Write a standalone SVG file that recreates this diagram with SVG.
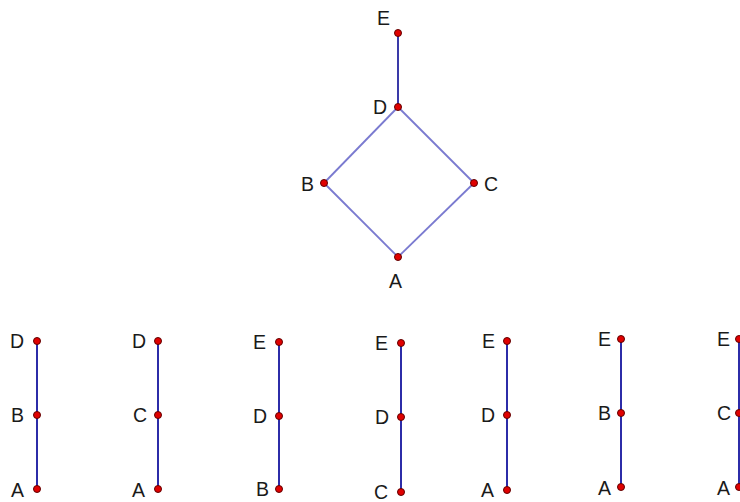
<svg xmlns="http://www.w3.org/2000/svg" width="740" height="502" viewBox="0 0 740 502">
<style>
.lbl{font-family:"Liberation Sans",Arial,sans-serif;font-size:19.5px;fill:#1a1a1a;}
.dot{fill:#e00000;stroke:#600000;stroke-width:1;}
.e1{stroke:#3a3aa8;stroke-width:2;fill:none;}
.e2{stroke:#7a7ad0;stroke-width:1.8;fill:none;}
.e3{stroke:#2c2ca8;stroke-width:2;fill:none;}
</style>
<rect width="740" height="502" fill="#ffffff"/>
<g id="connectors">
<line class="e1" x1="398" y1="33" x2="398" y2="107"/>
<line class="e2" x1="398" y1="107" x2="324" y2="183"/>
<line class="e2" x1="398" y1="107" x2="474" y2="183"/>
<line class="e2" x1="324" y1="183" x2="398" y2="257"/>
<line class="e2" x1="474" y1="183" x2="398" y2="257"/>
<line class="e3" x1="37" y1="341" x2="37" y2="489"/>
<line class="e3" x1="158" y1="341" x2="158" y2="489"/>
<line class="e3" x1="279" y1="342" x2="279" y2="489"/>
<line class="e3" x1="401" y1="343" x2="401" y2="492"/>
<line class="e3" x1="507" y1="341" x2="507" y2="490"/>
<line class="e3" x1="621" y1="339" x2="621" y2="487"/>
<line class="e3" x1="739" y1="339" x2="739" y2="487"/>
</g>
<g id="E"><circle class="dot" cx="398" cy="33" r="3.5"/><text class="lbl" x="377" y="25">E</text></g>
<g id="D"><circle class="dot" cx="398" cy="107" r="3.5"/><text class="lbl" x="373" y="114">D</text></g>
<g id="B"><circle class="dot" cx="324" cy="183" r="3.5"/><text class="lbl" x="301" y="191">B</text></g>
<g id="C"><circle class="dot" cx="474" cy="183" r="3.5"/><text class="lbl" x="484" y="191">C</text></g>
<g id="A"><circle class="dot" cx="398" cy="257" r="3.5"/><text class="lbl" x="389" y="288">A</text></g>

<g id="c1-D"><circle class="dot" cx="37" cy="341" r="3.5"/><text class="lbl" x="10" y="348">D</text></g>
<g id="c1-B"><circle class="dot" cx="37" cy="415" r="3.5"/><text class="lbl" x="11" y="422">B</text></g>
<g id="c1-A"><circle class="dot" cx="37" cy="489" r="3.5"/><text class="lbl" x="11" y="497">A</text></g>

<g id="c2-D"><circle class="dot" cx="158" cy="341" r="3.5"/><text class="lbl" x="132" y="348">D</text></g>
<g id="c2-C"><circle class="dot" cx="158" cy="415" r="3.5"/><text class="lbl" x="133" y="422">C</text></g>
<g id="c2-A"><circle class="dot" cx="158" cy="489" r="3.5"/><text class="lbl" x="132" y="497">A</text></g>

<g id="c3-E"><circle class="dot" cx="279" cy="342" r="3.5"/><text class="lbl" x="253" y="349">E</text></g>
<g id="c3-D"><circle class="dot" cx="279" cy="416" r="3.5"/><text class="lbl" x="253" y="423">D</text></g>
<g id="c3-B"><circle class="dot" cx="279" cy="489" r="3.5"/><text class="lbl" x="256" y="496">B</text></g>

<g id="c4-E"><circle class="dot" cx="401" cy="343" r="3.5"/><text class="lbl" x="375" y="350">E</text></g>
<g id="c4-D"><circle class="dot" cx="401" cy="417" r="3.5"/><text class="lbl" x="375" y="424">D</text></g>
<g id="c4-C"><circle class="dot" cx="401" cy="492" r="3.5"/><text class="lbl" x="374" y="499">C</text></g>

<g id="c5-E"><circle class="dot" cx="507" cy="341" r="3.5"/><text class="lbl" x="482" y="348">E</text></g>
<g id="c5-D"><circle class="dot" cx="507" cy="415" r="3.5"/><text class="lbl" x="481" y="422">D</text></g>
<g id="c5-A"><circle class="dot" cx="507" cy="490" r="3.5"/><text class="lbl" x="481" y="497">A</text></g>

<g id="c6-E"><circle class="dot" cx="621" cy="339" r="3.5"/><text class="lbl" x="598" y="346">E</text></g>
<g id="c6-B"><circle class="dot" cx="621" cy="413" r="3.5"/><text class="lbl" x="598" y="420">B</text></g>
<g id="c6-A"><circle class="dot" cx="621" cy="487" r="3.5"/><text class="lbl" x="598" y="495">A</text></g>

<g id="c7-E"><circle class="dot" cx="739" cy="339" r="3.5"/><text class="lbl" x="717" y="346">E</text></g>
<g id="c7-C"><circle class="dot" cx="739" cy="413" r="3.5"/><text class="lbl" x="717" y="420">C</text></g>
<g id="c7-A"><circle class="dot" cx="739" cy="487" r="3.5"/><text class="lbl" x="717" y="495">A</text></g>
</svg>
